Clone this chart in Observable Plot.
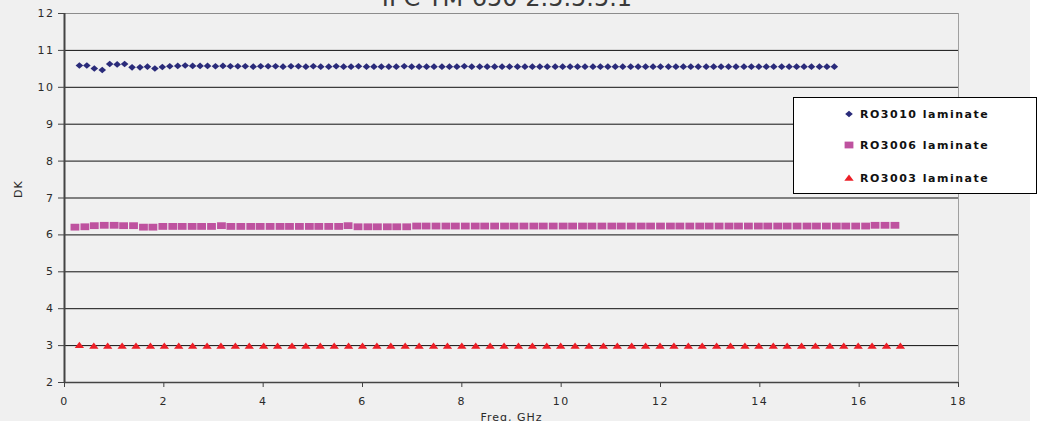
<!DOCTYPE html>
<html><head><meta charset="utf-8">
<script src="https://cdn.jsdelivr.net/npm/d3@7"></script>
<script src="https://cdn.jsdelivr.net/npm/@observablehq/plot@0.6"></script>
<style>
html,body{margin:0;padding:0;background:#fff;}
#wrap{position:relative;width:1030px;height:421px;background:#f0f0f0;}
#wrap > svg{position:absolute;left:0;top:0;}
#title{position:absolute;left:0;top:-14px;width:1014px;text-align:center;font:24px/24px "DejaVu Sans",sans-serif;color:#3a3a3a;white-space:nowrap;}
#legend{position:absolute;left:793px;top:97px;width:242px;height:95px;background:#fff;border:1px solid #000;z-index:2;}
#legend .item{position:absolute;left:0;height:14px;display:flex;align-items:center;font:bold 11px "DejaVu Sans",sans-serif;letter-spacing:1.5px;color:#111;white-space:nowrap;}
#legend .item svg{position:static;flex:none;}
g[aria-label$="tick label"] text{letter-spacing:1.5px;}
g[aria-label="text"] text{letter-spacing:1px;}
</style>
</head><body>
<div id="wrap"><div id="title"></div><div id="legend"></div></div>
<script>
const titleText = "IPC TM-650 2.5.5.5.1";
const xLabel = "Freq, GHz";
const yLabel = "DK";
const xTicks = [0,2,4,6,8,10,12,14,16,18];
const yTicks = [2,3,4,5,6,7,8,9,10,11,12];
const seriesNames = ["RO3010 laminate","RO3006 laminate","RO3003 laminate"];

const freq3010 = [0.30,0.45,0.60,0.76,0.91,1.06,1.21,1.36,1.52,1.67,
1.82,1.97,2.12,2.28,2.43,2.58,2.73,2.88,3.04,3.19,
3.34,3.49,3.64,3.80,3.95,4.10,4.25,4.40,4.56,4.71,
4.86,5.01,5.16,5.32,5.47,5.62,5.77,5.92,6.08,6.23,
6.38,6.53,6.68,6.84,6.99,7.14,7.29,7.44,7.60,7.75,
7.90,8.05,8.20,8.36,8.51,8.66,8.81,8.96,9.12,9.27,
9.42,9.57,9.72,9.88,10.03,10.18,10.33,10.48,10.64,10.79,
10.94,11.09,11.24,11.40,11.55,11.70,11.85,12.00,12.16,12.31,
12.46,12.61,12.76,12.92,13.07,13.22,13.37,13.52,13.68,13.83,
13.98,14.13,14.28,14.44,14.59,14.74,14.89,15.04,15.20,15.35,
15.50];
const dk3010 = [10.59,10.59,10.51,10.47,10.63,10.62,10.63,10.54,10.54,10.56,
10.51,10.55,10.57,10.58,10.59,10.58,10.58,10.58,10.57,10.58,
10.57,10.57,10.57,10.56,10.57,10.57,10.57,10.56,10.57,10.57,
10.56,10.57,10.56,10.56,10.57,10.56,10.56,10.57,10.56,10.56,
10.56,10.56,10.56,10.57,10.56,10.56,10.56,10.56,10.56,10.56,
10.56,10.57,10.56,10.56,10.56,10.56,10.56,10.56,10.56,10.56,
10.56,10.56,10.56,10.56,10.56,10.56,10.56,10.56,10.56,10.56,
10.56,10.56,10.56,10.56,10.56,10.56,10.56,10.56,10.56,10.56,
10.56,10.56,10.56,10.56,10.56,10.56,10.56,10.56,10.56,10.56,
10.56,10.56,10.56,10.56,10.56,10.56,10.56,10.56,10.56,10.56,
10.56];

const freq3006 = [0.21,0.41,0.60,0.80,1.00,1.19,1.39,1.59,1.78,1.98,
2.18,2.37,2.57,2.76,2.96,3.16,3.35,3.55,3.75,3.94,
4.14,4.34,4.53,4.73,4.93,5.12,5.32,5.52,5.71,5.91,
6.11,6.30,6.50,6.69,6.89,7.09,7.28,7.48,7.68,7.87,
8.07,8.27,8.46,8.66,8.86,9.05,9.25,9.45,9.64,9.84,
10.04,10.23,10.43,10.62,10.82,11.02,11.21,11.41,11.61,11.80,
12.00,12.20,12.39,12.59,12.79,12.98,13.18,13.38,13.57,13.77,
13.97,14.16,14.36,14.55,14.75,14.95,15.14,15.34,15.54,15.73,
15.93,16.13,16.32,16.52,16.72];
const dk3006 = [6.21,6.22,6.25,6.26,6.26,6.25,6.25,6.21,6.21,6.23,
6.23,6.23,6.23,6.23,6.23,6.25,6.23,6.23,6.23,6.23,
6.23,6.23,6.23,6.23,6.23,6.23,6.23,6.23,6.25,6.22,
6.22,6.22,6.22,6.22,6.22,6.24,6.24,6.24,6.24,6.24,
6.24,6.24,6.24,6.24,6.24,6.24,6.24,6.24,6.24,6.24,
6.24,6.24,6.24,6.24,6.24,6.24,6.24,6.24,6.24,6.24,
6.24,6.24,6.24,6.24,6.24,6.24,6.24,6.24,6.24,6.24,
6.24,6.24,6.24,6.24,6.24,6.24,6.24,6.24,6.24,6.24,
6.24,6.24,6.26,6.26,6.26];

const freq3003 = [0.30,0.59,0.87,1.16,1.44,1.73,2.01,2.30,2.58,2.87,
3.15,3.44,3.72,4.01,4.29,4.58,4.86,5.15,5.43,5.72,
6.00,6.29,6.57,6.86,7.14,7.43,7.71,8.00,8.28,8.57,
8.85,9.14,9.42,9.71,9.99,10.28,10.56,10.85,11.13,11.42,
11.70,11.99,12.27,12.56,12.84,13.13,13.41,13.70,13.98,14.27,
14.55,14.84,15.12,15.41,15.69,15.98,16.26,16.55,16.83];
const dk3003 = [3.01,2.99,2.99,2.99,2.99,2.99,2.99,2.99,2.99,2.99,
2.99,2.99,2.99,2.99,2.99,2.99,2.99,2.99,2.99,2.99,
2.99,2.99,2.99,2.99,2.99,2.99,2.99,2.99,2.99,2.99,
2.99,2.99,2.99,2.99,2.99,2.99,2.99,2.99,2.99,2.99,
2.99,2.99,2.99,2.99,2.99,2.99,2.99,2.99,2.99,2.99,
2.99,2.99,2.99,2.99,2.99,2.99,2.99,2.99,2.99];

// marker shapes
const diamondSym = {draw(c){c.moveTo(0,-3.3);c.lineTo(3.8,0);c.lineTo(0,3.3);c.lineTo(-3.8,0);c.closePath();}};
const squareSym = {draw(c){c.moveTo(-4.4,-3.4);c.lineTo(4.4,-3.4);c.lineTo(4.4,3.4);c.lineTo(-4.4,3.4);c.closePath();}};
const triangleSym = {draw(c){c.moveTo(0,-3.4);c.lineTo(4.7,2.8);c.lineTo(-4.7,2.8);c.closePath();}};

const series = [
  {name: seriesNames[0], freq: freq3010, dk: dk3010, color: "#2a2b7a", sym: diamondSym},
  {name: seriesNames[1], freq: freq3006, dk: dk3006, color: "#be529f", sym: squareSym},
  {name: seriesNames[2], freq: freq3003, dk: dk3003, color: "#ec1f27", sym: triangleSym}
];
const rows = s => s.freq.map((f,i) => ({freq: f, dk: s.dk[i]}));

const chart = Plot.plot({
  width: 1030, height: 421,
  marginLeft: 64, marginRight: 72, marginTop: 13, marginBottom: 39,
  x: {domain: [0,18]},
  y: {domain: [2,12]},
  style: {background: "transparent", fontFamily: "DejaVu Sans, sans-serif", fontSize: "11px", color: "#2a2a2a"},
  marks: [
    Plot.ruleY(yTicks.filter(v => v > 2 && v < 12), {stroke: "#111", strokeWidth: 1}),
    Plot.ruleY([12], {stroke: "#8c8c8c"}),
    Plot.ruleX([18], {y1: 2, y2: 12, stroke: "#a0a0a0"}),
    Plot.axisY({ticks: yTicks, tickSize: 6, tickPadding: 4, label: null, stroke: "#444"}),
    Plot.axisX({ticks: xTicks, tickSize: 5, tickPadding: 10, label: null, stroke: "#444"}),
    Plot.ruleX([0], {y1: 2, y2: 12, stroke: "#444", strokeWidth: 2}),
    Plot.ruleY([2], {stroke: "#444", strokeWidth: 1.5}),
    ...series.map(s => Plot.dot(rows(s), {x: "freq", y: "dk", fill: s.color, symbol: s.sym})),
    Plot.text([yLabel], {frameAnchor: "left", dx: -46, rotate: -90, fontSize: 11}),
    Plot.text([xLabel], {frameAnchor: "bottom", dy: 31, lineAnchor: "top", fontSize: 11})
  ]
});
const wrap = document.getElementById("wrap");
wrap.insertBefore(chart, wrap.firstChild);
document.getElementById("title").textContent = titleText;

const legend = document.getElementById("legend");
const rowTops = [9, 40, 73];
series.forEach((s, i) => {
  const item = document.createElement("div");
  item.className = "item";
  item.style.top = rowTops[i] + "px";
  item.style.left = "49px";
  const sv = d3.create("svg").attr("width", 12).attr("height", 14).style("margin-right", "5px");
  sv.append("path").attr("transform", "translate(6,7)").attr("d", d3.symbol(s.sym)()).attr("fill", s.color);
  item.appendChild(sv.node());
  const t = document.createElement("span");
  t.textContent = s.name;
  item.appendChild(t);
  legend.appendChild(item);
});
</script>
</body></html>
